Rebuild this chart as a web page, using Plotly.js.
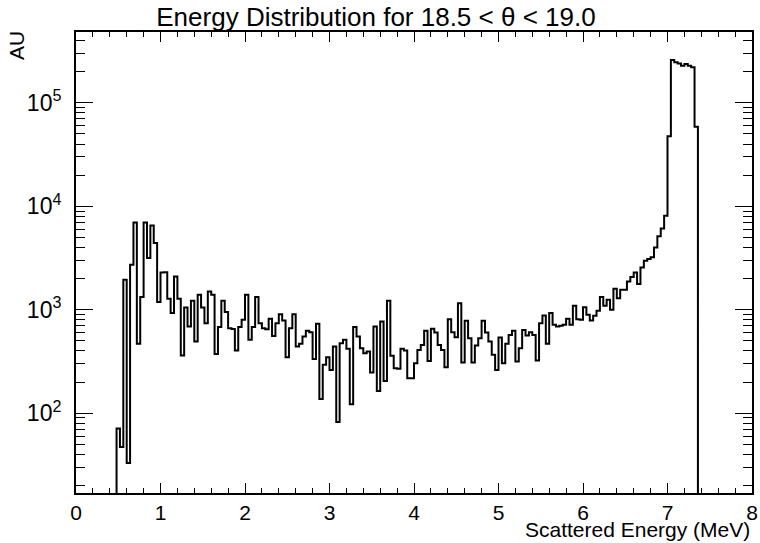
<!DOCTYPE html>
<html>
<head>
<meta charset="utf-8">
<script src="https://cdn.plot.ly/plotly-3.0.1.min.js"></script>
<style>html,body{margin:0;padding:0;background:#fff;}#chart{width:760px;height:543px;}</style>
</head>
<body>
<div id="chart"></div>
<script>
// Histogram: 0.04 MeV bins, first filled bin starts at 0.48 MeV
const binStart = 0.48;
const binWidth = 0.04;
const counts = [
  71, 47, 1950, 33, 2720, 6980, 468, 1325, 6980, 3160,
  6530, 4410, 1185, 2290, 2300, 1276, 927, 2100, 1276, 360,
  1050, 687, 1220, 492, 1393, 1050, 741, 1500, 1393, 374,
  679, 1220, 949, 663, 650, 403, 679, 798, 1393, 512,
  679, 1325,
  741, 663, 649, 817, 558, 741, 906, 787, 348, 663,
  906, 441, 468, 550, 625, 607, 333, 730, 137, 293,
  348, 262, 441, 82, 475, 512, 419, 122, 679, 550,
  425, 380, 394, 247, 687, 164, 770, 205, 1220, 358,
  272, 269, 419,
  403, 218, 218, 304, 409, 457, 625, 320, 653, 601,
  457, 409, 278, 811, 607, 543, 1158, 308, 781, 531,
  308, 451, 531, 781, 601, 492, 366, 262, 540, 304,
  468, 571, 625, 316, 425, 638, 562, 607, 571, 323,
  741, 879, 468,
  927, 715, 687, 698, 715, 817, 715, 1092, 811, 798,
  1059, 893, 787, 873, 975, 1325, 1092, 1248, 1000, 1592,
  1294, 1560, 1560, 1875, 2070, 2290, 1770, 2565, 2970, 3090,
  3210, 4000, 5120, 6100, 8110, 47500,
  259000, 247000, 240000, 229000, 238000, 229000, 221000, 58700
];
const xRange = [0, 8];
const yTickVals = [100, 1000, 10000, 100000];
const yTickText = ['10<sup>2</sup>', '10<sup>3</sup>', '10<sup>4</sup>', '10<sup>5</sup>'];
const titleText = 'Energy Distribution for 18.5 < θ < 19.0';
const xTitle = 'Scattered Energy (MeV)';
const yTitle = 'AU';

// Build step outline: empty bins are drawn below the visible floor
const emptyLevel = 1;
const xs = [xRange[0]];
const ys = [emptyLevel];
counts.forEach((c, i) => { xs.push(+(binStart + i * binWidth).toFixed(4)); ys.push(c); });
xs.push(+(binStart + counts.length * binWidth).toFixed(4)); ys.push(emptyLevel);
xs.push(xRange[1]); ys.push(emptyLevel);

const font = 'Liberation Sans, Arial, Helvetica, sans-serif';

const trace = {
  x: xs, y: ys, type: 'scatter', mode: 'lines',
  line: {shape: 'hv', color: '#000', width: 2},
  hoverinfo: 'skip'
};

const layout = {
  width: 760, height: 543,
  margin: {l: 76, r: 8, t: 32, b: 50, pad: 0},
  paper_bgcolor: '#fff', plot_bgcolor: '#fff',
  showlegend: false,
  font: {family: font, size: 21, color: '#000'},
  title: {text: titleText, font: {family: font, size: 26, color: '#000'},
          x: 0.4947, xref: 'container', xanchor: 'center',
          y: 0.968, yref: 'container', yanchor: 'middle'},
  xaxis: {
    range: xRange, showgrid: false, zeroline: false,
    showline: true, linecolor: '#000', linewidth: 2, mirror: 'ticks',
    ticks: 'inside', ticklen: 10, tickwidth: 1, tickcolor: '#000',
    dtick: 1, tick0: 0, ticklabelstandoff: 0,
    tickfont: {family: font, size: 21, color: '#000'},
    minor: {ticks: 'inside', ticklen: 5, dtick: 0.2, tickwidth: 1, tickcolor: '#000', showgrid: false}
  },
  yaxis: {
    type: 'log', range: [1.228, 5.685], showgrid: false, zeroline: false,
    showline: true, linecolor: '#000', linewidth: 2, mirror: 'ticks',
    ticks: 'inside', ticklen: 17, tickwidth: 1, tickcolor: '#000',
    tickvals: yTickVals, ticktext: yTickText, ticklabelstandoff: 8,
    tickfont: {family: font, size: 23, color: '#000'},
    minor: {ticks: 'inside', ticklen: 9, dtick: 'D1', tickwidth: 1, tickcolor: '#000', showgrid: false}
  },
  annotations: [
    {text: xTitle, xref: 'paper', yref: 'paper', x: 1, y: -0.08,
     xanchor: 'right', yanchor: 'middle', showarrow: false,
     font: {family: font, size: 21, color: '#000'}},
    {text: yTitle, xref: 'paper', yref: 'paper', x: -0.0873, y: 0.972,
     xanchor: 'center', yanchor: 'middle', showarrow: false, textangle: -90,
     font: {family: font, size: 21, color: '#000'}}
  ]
};

Plotly.newPlot('chart', [trace], layout, {displayModeBar: false, staticPlot: true});
</script>
</body>
</html>
